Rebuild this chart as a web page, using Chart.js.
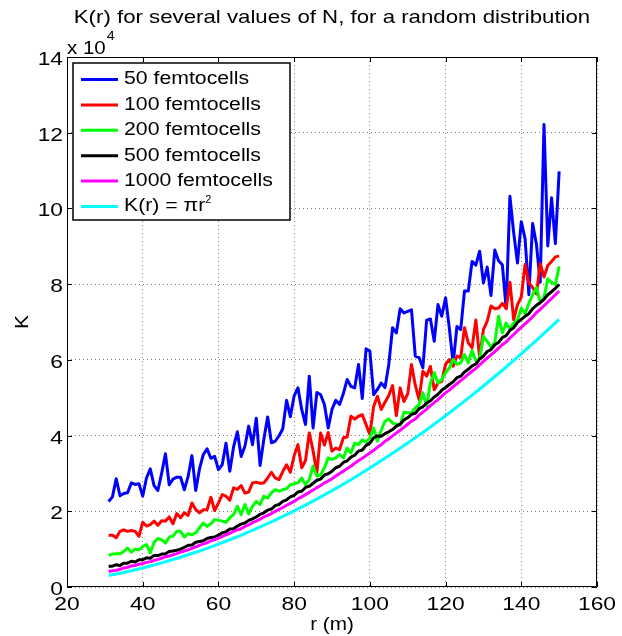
<!DOCTYPE html>
<html>
<head>
<meta charset="utf-8">
<script src="https://cdn.jsdelivr.net/npm/chart.js@4.4.1/dist/chart.umd.min.js"></script>
<style>
  html, body { margin: 0; padding: 0; background: #fff; }
  #wrap { width: 622px; height: 636px; }
</style>
</head>
<body>
<div id="wrap"><canvas id="chart" width="622" height="636"></canvas></div>
<script>
// r (m), one sample per metre
const radius = [
  31, 32, 33, 34, 35, 36, 37, 38, 39, 40,
  41, 42, 43, 44, 45, 46, 47, 48, 49, 50,
  51, 52, 53, 54, 55, 56, 57, 58, 59, 60,
  61, 62, 63, 64, 65, 66, 67, 68, 69, 70,
  71, 72, 73, 74, 75, 76, 77, 78, 79, 80,
  81, 82, 83, 84, 85, 86, 87, 88, 89, 90,
  91, 92, 93, 94, 95, 96, 97, 98, 99, 100,
  101, 102, 103, 104, 105, 106, 107, 108, 109, 110,
  111, 112, 113, 114, 115, 116, 117, 118, 119, 120,
  121, 122, 123, 124, 125, 126, 127, 128, 129, 130,
  131, 132, 133, 134, 135, 136, 137, 138, 139, 140,
  141, 142, 143, 144, 145, 146, 147, 148, 149, 150
];

// K(r) in units of 10^4
const k50 = [
  2.26, 2.38, 2.86, 2.41, 2.47, 2.49, 2.75, 2.71, 2.73, 2.40,
  2.88, 3.12, 2.68, 2.55, 3.00, 3.52, 2.70, 2.85, 2.90, 2.90,
  2.57, 2.92, 3.47, 2.55, 3.12, 3.50, 3.65, 3.40, 3.45, 3.10,
  3.23, 3.80, 3.06, 3.70, 4.10, 3.45, 3.72, 4.25, 3.76, 4.46,
  3.21, 3.90, 4.49, 3.81, 3.85, 3.99, 4.18, 4.93, 4.50, 5.05,
  5.26, 4.69, 4.29, 5.57, 4.20, 5.14, 5.08, 4.82, 4.20, 4.69,
  4.93, 4.82, 5.11, 5.48, 5.30, 5.26, 5.88, 4.98, 6.29, 6.23,
  5.08, 5.22, 5.39, 5.27, 5.88, 6.85, 6.71, 7.35, 7.24, 7.28,
  7.32, 6.10, 6.06, 5.79, 7.05, 7.08, 6.49, 7.46, 7.15, 7.64,
  6.83, 5.90, 6.88, 6.80, 7.82, 7.82, 8.60, 8.50, 8.87, 8.03,
  8.45, 7.70, 8.90, 8.62, 8.51, 7.36, 10.32, 9.35, 8.56, 9.65,
  9.20, 7.72, 9.60, 9.05, 8.05, 12.22, 9.01, 10.28, 9.07, 10.98
];
const k100 = [
  1.37, 1.37, 1.30, 1.47, 1.51, 1.47, 1.49, 1.47, 1.34, 1.71,
  1.61, 1.65, 1.74, 1.63, 1.75, 1.74, 1.85, 1.67, 1.94, 1.83,
  1.96, 1.89, 2.22, 2.05, 1.96, 2.04, 2.04, 2.37, 2.02, 2.22,
  2.44, 2.40, 2.29, 2.62, 2.58, 2.68, 2.48, 2.51, 2.75, 2.77,
  2.74, 2.75, 2.88, 3.03, 2.88, 2.84, 3.05, 3.23, 3.03, 3.47,
  3.76, 3.15, 3.34, 4.07, 3.60, 3.01, 4.07, 3.75, 4.08, 3.59,
  3.67, 3.63, 3.94, 3.96, 4.51, 4.44, 4.51, 4.55, 4.29, 4.03,
  4.77, 5.04, 4.69, 4.88, 5.06, 5.32, 4.53, 5.26, 4.90, 5.10,
  5.88, 5.33, 4.95, 5.70, 5.57, 5.83, 5.21, 5.39, 5.43, 5.88,
  6.01, 5.83, 6.10, 6.06, 6.85, 6.45, 6.32, 7.05, 6.05, 6.80,
  7.02, 7.42, 7.35, 7.37, 7.49, 7.35, 8.05, 7.06, 7.46, 7.66,
  8.52, 8.04, 7.91, 7.74, 8.54, 8.19, 8.49, 8.60, 8.72, 8.74
];
const k200 = [
  0.84, 0.87, 0.88, 0.88, 0.94, 1.03, 0.92, 1.00, 0.98, 1.07,
  1.12, 0.90, 1.18, 1.28, 1.25, 1.16, 1.32, 1.34, 1.47, 1.47,
  1.32, 1.41, 1.38, 1.43, 1.56, 1.69, 1.60, 1.67, 1.78, 1.76,
  1.74, 1.71, 1.83, 1.91, 2.13, 1.91, 2.18, 1.93, 2.13, 2.26,
  2.18, 2.40, 2.35, 2.49, 2.57, 2.53, 2.57, 2.60, 2.70, 2.73,
  2.75, 2.88, 2.70, 2.84, 3.19, 2.93, 2.97, 3.15, 3.41, 3.37,
  3.41, 3.50, 3.41, 3.67, 3.54, 3.80, 3.76, 3.89, 3.82, 3.94,
  4.20, 3.85, 4.14, 4.38, 4.44, 4.33, 4.30, 4.27, 4.62, 4.60,
  4.60, 4.73, 4.82, 5.13, 4.77, 5.39, 5.66, 5.39, 5.48, 5.66,
  5.79, 6.01, 5.88, 5.92, 6.14, 5.92, 6.25, 5.97, 6.03, 6.62,
  6.49, 6.34, 6.45, 7.15, 6.71, 6.97, 6.82, 6.97, 7.06, 7.37,
  7.22, 7.49, 7.72, 7.91, 7.53, 7.64, 8.14, 8.04, 7.99, 8.47
];
const k500 = [
  0.55, 0.55, 0.59, 0.57, 0.63, 0.63, 0.68, 0.66, 0.72, 0.72,
  0.77, 0.76, 0.83, 0.83, 0.87, 0.88, 0.94, 0.95, 0.97, 1.00,
  1.05, 1.10, 1.11, 1.18, 1.20, 1.22, 1.28, 1.31, 1.32, 1.37,
  1.43, 1.46, 1.53, 1.54, 1.61, 1.66, 1.69, 1.76, 1.80, 1.85,
  1.92, 1.96, 2.03, 2.06, 2.15, 2.18, 2.26, 2.30, 2.38, 2.42,
  2.51, 2.53, 2.63, 2.66, 2.74, 2.82, 2.85, 2.96, 2.99, 3.06,
  3.15, 3.19, 3.29, 3.33, 3.43, 3.48, 3.59, 3.62, 3.74, 3.80,
  3.94, 3.99, 3.98, 4.05, 4.10, 4.16, 4.25, 4.30, 4.41, 4.47,
  4.56, 4.59, 4.71, 4.76, 4.86, 4.92, 5.02, 5.09, 5.20, 5.27,
  5.35, 5.42, 5.53, 5.57, 5.68, 5.75, 5.84, 5.89, 6.02, 6.10,
  6.22, 6.27, 6.40, 6.46, 6.59, 6.64, 6.78, 6.85, 6.99, 7.07,
  7.15, 7.22, 7.35, 7.44, 7.51, 7.60, 7.72, 7.80, 7.89, 7.99
];
const k1000 = [
  0.41, 0.43, 0.44, 0.47, 0.50, 0.52, 0.56, 0.57, 0.60, 0.62,
  0.65, 0.67, 0.70, 0.73, 0.76, 0.80, 0.82, 0.85, 0.88, 0.92,
  0.95, 0.98, 1.02, 1.06, 1.10, 1.14, 1.17, 1.22, 1.25, 1.29,
  1.33, 1.38, 1.42, 1.47, 1.51, 1.54, 1.60, 1.64, 1.70, 1.74,
  1.79, 1.85, 1.89, 1.94, 2.00, 2.05, 2.10, 2.16, 2.21, 2.26,
  2.33, 2.38, 2.44, 2.50, 2.56, 2.62, 2.68, 2.75, 2.80, 2.86,
  2.93, 3.00, 3.06, 3.13, 3.19, 3.27, 3.34, 3.40, 3.47, 3.54,
  3.61, 3.69, 3.76, 3.85, 3.91, 3.99, 4.07, 4.14, 4.22, 4.30,
  4.38, 4.44, 4.54, 4.62, 4.70, 4.79, 4.87, 4.95, 5.04, 5.13,
  5.20, 5.29, 5.37, 5.45, 5.53, 5.62, 5.70, 5.77, 5.87, 5.96,
  6.05, 6.13, 6.22, 6.31, 6.40, 6.47, 6.58, 6.67, 6.77, 6.86,
  6.95, 7.04, 7.14, 7.25, 7.33, 7.43, 7.53, 7.62, 7.72, 7.82
];
// theoretical curve, read every 5 m
const csrR = [31, 35, 40, 45, 50, 55, 60, 65, 70, 75, 80, 85, 90, 95, 100, 105, 110, 115, 120, 125, 130, 135, 140, 145, 150];
const csrK = [0.302, 0.385, 0.503, 0.636, 0.785, 0.950, 1.131, 1.327, 1.539, 1.767, 2.011, 2.270, 2.545, 2.835, 3.142, 3.464, 3.801, 4.155, 4.524, 4.909, 5.309, 5.726, 6.158, 6.605, 7.069];

const xTicks = [20, 40, 60, 80, 100, 120, 140, 160];
const yTicks = [0, 2, 4, 6, 8, 10, 12, 14];

const FONT = "'Liberation Sans', Arial, Helvetica, sans-serif";

const pts = (xs, ys) => xs.map((x, i) => ({ x: x, y: ys[i] }));

// the figure's text is a little wider than Arial, so stretch it horizontally
function drawText(ctx, text, x, y, size, sx, align) {
  ctx.save();
  ctx.translate(x, y);
  ctx.scale(sx, 1);
  ctx.font = size + "px " + FONT;
  ctx.textAlign = align;
  ctx.fillText(text, 0, 0);
  const w = ctx.measureText(text).width * sx;
  ctx.restore();
  return w;
}

const matlabFrame = {
  id: "matlabFrame",
  afterDatasetsDraw(chart) {
    const { ctx, chartArea: a, scales: { x, y } } = chart;
    ctx.save();

    // axes box and inward ticks
    ctx.strokeStyle = "#000";
    ctx.lineWidth = 1;
    ctx.beginPath();
    ctx.rect(a.left + 0.5, a.top + 0.5, a.right - a.left - 1, a.bottom - a.top - 1);
    xTicks.forEach(v => {
      const px = Math.round(x.getPixelForValue(v)) + 0.5;
      ctx.moveTo(px, a.bottom); ctx.lineTo(px, a.bottom - 5);
      ctx.moveTo(px, a.top); ctx.lineTo(px, a.top + 5);
    });
    yTicks.forEach(v => {
      const py = Math.round(y.getPixelForValue(v)) + 0.5;
      ctx.moveTo(a.left, py); ctx.lineTo(a.left + 5, py);
      ctx.moveTo(a.right, py); ctx.lineTo(a.right - 5, py);
    });
    ctx.stroke();

    ctx.fillStyle = "#000";
    ctx.textBaseline = "alphabetic";

    // tick labels
    xTicks.forEach(v => drawText(ctx, String(v), x.getPixelForValue(v), 610, 19, 1.2, "center"));
    yTicks.forEach(v => drawText(ctx, String(v), 63, y.getPixelForValue(v) + 8, 19, 1.2, "right"));

    // legend
    const lx = 73, ly = 63, lw = 217, lh = 157;
    ctx.fillStyle = "#fff";
    ctx.fillRect(lx, ly, lw, lh);
    ctx.strokeStyle = "#000";
    ctx.lineWidth = 1.5;
    ctx.strokeRect(lx, ly, lw, lh);
    ctx.textBaseline = "middle";
    chart.data.datasets.forEach((ds, i) => {
      const cy = 79.5 + i * 25.4;
      ctx.strokeStyle = ds.borderColor;
      ctx.lineWidth = 3;
      ctx.beginPath();
      ctx.moveTo(81, cy); ctx.lineTo(118, cy);
      ctx.stroke();
      ctx.fillStyle = "#000";
      const label = ds.label;
      if (label.endsWith("²")) {
        const w = drawText(ctx, label.slice(0, -1), 124, cy, 18, 1.18, "left");
        drawText(ctx, "2", 124 + w, cy - 6, 10, 1.1, "left");
      } else {
        drawText(ctx, label, 124, cy, 18, 1.18, "left");
      }
    });

    // texts around the axes
    ctx.fillStyle = "#000";
    ctx.textBaseline = "alphabetic";
    const cx = (a.left + a.right) / 2;
    drawText(ctx, "K(r) for several values of N, for a random distribution", cx, 23, 19, 1.17, "center");
    drawText(ctx, "r (m)", cx, 630, 18, 1.15, "center");
    ctx.save();
    ctx.translate(28, (a.top + a.bottom) / 2);
    ctx.rotate(-Math.PI / 2);
    drawText(ctx, "K", 0, 0, 19, 1.1, "center");
    ctx.restore();
    const w10 = drawText(ctx, "x 10", 67, 54, 19, 1.08, "left");
    drawText(ctx, "4", 67 + w10 + 1, 40, 13, 1.1, "left");
    ctx.restore();
  }
};

new Chart(document.getElementById("chart"), {
  type: "line",
  data: {
    datasets: [
      { label: "50 femtocells", data: pts(radius, k50), borderColor: "#0000ff", order: 6 },
      { label: "100 femtocells", data: pts(radius, k100), borderColor: "#ff0000", order: 5 },
      { label: "200 femtocells", data: pts(radius, k200), borderColor: "#00ff00", order: 4 },
      { label: "500 femtocells", data: pts(radius, k500), borderColor: "#000000", order: 3 },
      { label: "1000 femtocells", data: pts(radius, k1000), borderColor: "#ff00ff", order: 2 },
      { label: "K(r) = πr²", data: pts(csrR, csrK), borderColor: "#00ffff", order: 1 },
    ],
  },
  options: {
    responsive: false,
    animation: false,
    devicePixelRatio: 1,
    layout: { padding: { left: 0, top: 57, right: 25, bottom: 0 } },
    elements: {
      point: { radius: 0, hoverRadius: 0 },
      line: { borderWidth: 3, tension: 0, fill: false, borderJoinStyle: "round" },
    },
    plugins: { legend: { display: false }, title: { display: false }, tooltip: { enabled: false } },
    scales: {
      x: {
        type: "linear",
        min: 20,
        max: 160,
        afterBuildTicks: s => { s.ticks = xTicks.map(v => ({ value: v })); },
        afterFit: s => { s.height = 49; },
        grid: { color: "rgba(0,0,0,0.5)", lineWidth: 1, drawTicks: false },
        border: { display: false, dash: [1, 3] },
        ticks: { display: false },
      },
      y: {
        type: "linear",
        min: 0,
        max: 14,
        afterBuildTicks: s => { s.ticks = yTicks.map(v => ({ value: v })); },
        afterFit: s => { s.width = 67; },
        grid: { color: "rgba(0,0,0,0.5)", lineWidth: 1, drawTicks: false },
        border: { display: false, dash: [1, 3] },
        ticks: { display: false },
      },
    },
  },
  plugins: [matlabFrame],
});
</script>
</body>
</html>
